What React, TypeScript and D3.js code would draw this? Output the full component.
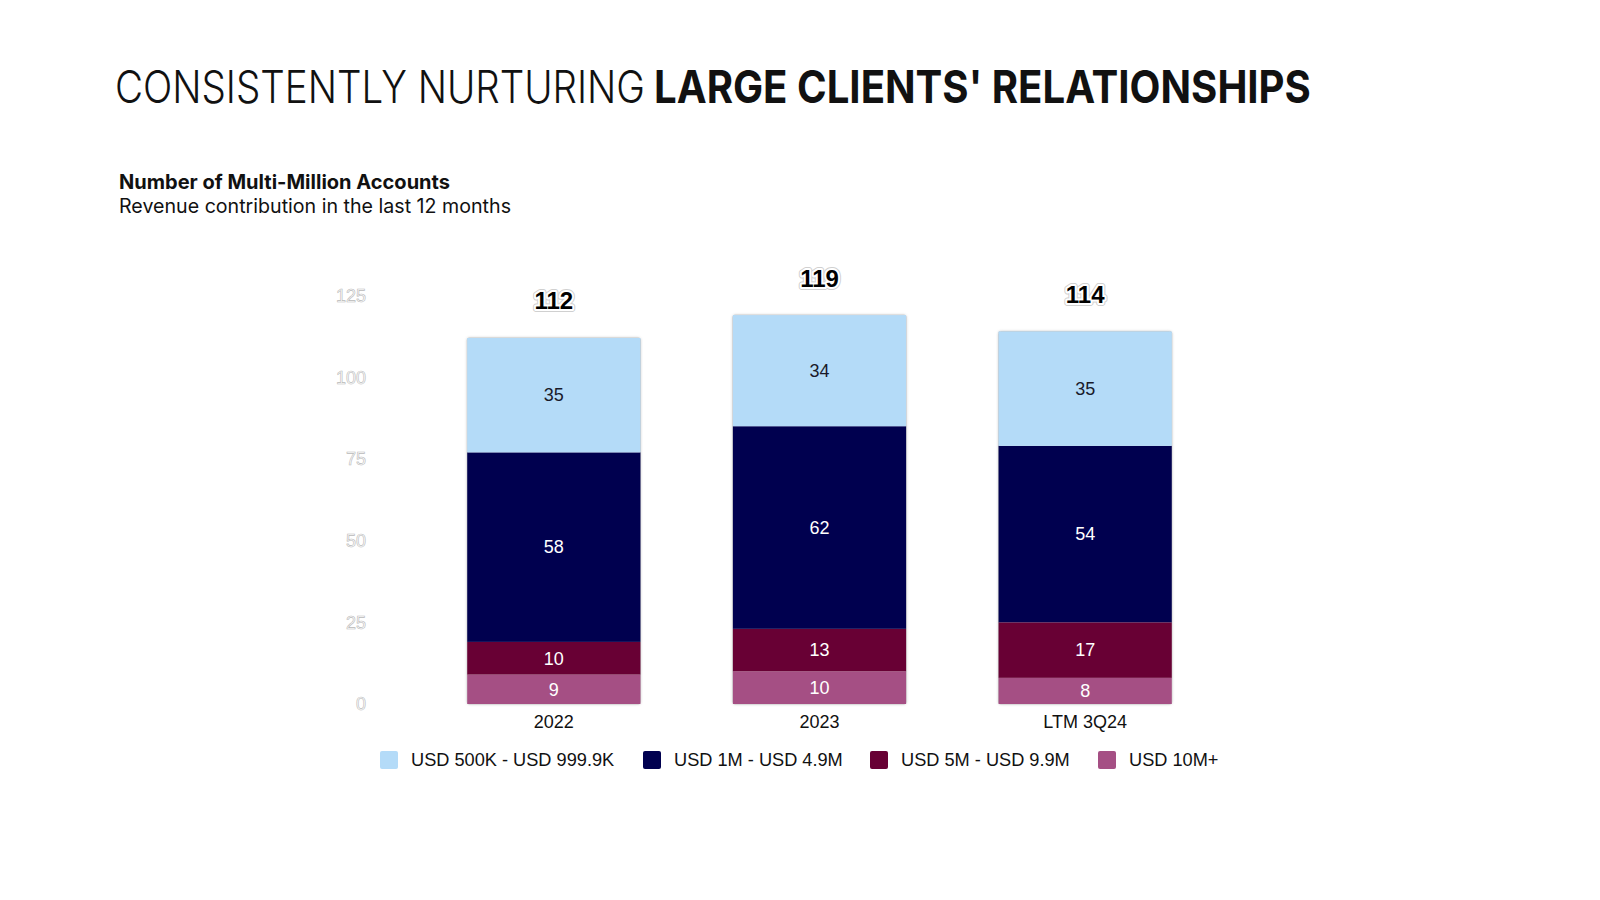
import React from 'react';
import * as d3 from 'd3';

const categories = ['2022', '2023', 'LTM 3Q24'];
const seriesNames = ['USD 10M+', 'USD 5M - USD 9.9M', 'USD 1M - USD 4.9M', 'USD 500K - USD 999.9K'];
const usd10m = [9, 10, 8];
const usd5m = [10, 13, 17];
const usd1m = [58, 62, 54];
const usd500k = [35, 34, 35];
const totals = [112, 119, 114];
const yTicks = [0, 25, 50, 75, 100, 125];
const legendOrder = ['USD 500K - USD 999.9K', 'USD 1M - USD 4.9M', 'USD 5M - USD 9.9M', 'USD 10M+'];

const colors: Record<string, string> = {
  'USD 10M+': '#a54f84',
  'USD 5M - USD 9.9M': '#680034',
  'USD 1M - USD 4.9M': '#00004f',
  'USD 500K - USD 999.9K': '#b4dbf8',
};

export default function App() {
  const width = 1600;
  const height = 900;

  const rows = categories.map((c, i) => ({
    cat: c,
    'USD 10M+': usd10m[i],
    'USD 5M - USD 9.9M': usd5m[i],
    'USD 1M - USD 4.9M': usd1m[i],
    'USD 500K - USD 999.9K': usd500k[i],
  }));
  const stacked = d3.stack<any>().keys(seriesNames)(rows);

  const x = d3.scaleBand()
    .domain(categories)
    .range([421, 1218])
    .paddingInner(0.348)
    .paddingOuter(0.174);

  const y = d3.scaleLinear().domain([0, 125]).range([704, 295.5]);

  const axisFont = 'Liberation Sans, Arial, sans-serif';

  // legend positions (left edge of square)
  const legendX = d3.scaleOrdinal<string, number>().domain(legendOrder).range([380, 643, 870, 1098]);

  return (
    <svg width={width} height={height} style={{ position: 'absolute', left: 0, top: 0, background: '#fff' }}>
      <defs>
        <filter id="soft" x="-20%" y="-20%" width="140%" height="140%">
          <feDropShadow dx="0" dy="0" stdDeviation="1" floodColor="#999" floodOpacity="0.6" />
        </filter>
      </defs>

      {/* title, squeezed horizontally to the narrow face of the original */}
      <g transform="translate(115,103) scale(0.856,1)">
        <text x={0} y={0} fontFamily="Inter, sans-serif" fontSize={45} fontWeight={300} fill="#111">
          CONSISTENTLY NURTURING
        </text>
      </g>
      <g transform="translate(654,103) scale(0.892,1)">
        <text x={0} y={0} fontFamily="Inter, sans-serif" fontSize={45} fontWeight={700} fill="#111">
          LARGE CLIENTS' RELATIONSHIPS
        </text>
      </g>

      <text x={119} y={189} fontFamily="Inter, sans-serif" fontSize={20} fontWeight={700} fill="#111"
        textLength={331} lengthAdjust="spacingAndGlyphs">
        Number of Multi-Million Accounts
      </text>
      <text x={119} y={213} fontFamily="Inter, sans-serif" fontSize={19.5} fontWeight={400} fill="#111"
        textLength={392} lengthAdjust="spacingAndGlyphs">
        Revenue contribution in the last 12 months
      </text>

      {/* y ticks: outlined labels */}
      {yTicks.map(t => (
        <text key={t} x={366} y={y(t)} dy="0.35em" textAnchor="end" fontFamily={axisFont} fontSize={18}
          fill="#fff" stroke="#b8b8b8" strokeWidth={0.6}>
          {t}
        </text>
      ))}

      {/* bars */}
      {categories.map((c, i) => (
        <rect key={'bg' + c} x={x(c)} y={y(totals[i])} width={x.bandwidth()} height={y(0) - y(totals[i])}
          rx={2} fill="none" stroke="#c8c8c8" strokeWidth={1} filter="url(#soft)" />
      ))}
      {stacked.map(s => (
        <g key={s.key}>
          {s.map((d, i) => (
            <rect key={categories[i]} x={x(categories[i])} y={y(d[1])} width={x.bandwidth()}
              height={y(d[0]) - y(d[1])} fill={colors[s.key]} />
          ))}
        </g>
      ))}
      {stacked.map(s => (
        <g key={'lbl' + s.key}>
          {s.map((d, i) => (
            <text key={categories[i]} x={(x(categories[i]) ?? 0) + x.bandwidth() / 2} y={(y(d[0]) + y(d[1])) / 2}
              dy="0.35em" textAnchor="middle" fontFamily={axisFont} fontSize={18}
              fill={s.key === 'USD 500K - USD 999.9K' ? '#1a1a2a' : '#fff'}>
              {d[1] - d[0]}
            </text>
          ))}
        </g>
      ))}

      {/* totals */}
      {categories.map((c, i) => (
        <g key={'tot' + c}>
          <text x={(x(c) ?? 0) + x.bandwidth() / 2} y={y(totals[i]) - 37} dy="0.35em" textAnchor="middle"
            fontFamily={axisFont} fontSize={24} fontWeight={700} fill="#000" stroke="#d0d0d0" strokeWidth={6}
            strokeLinejoin="round" style={{ paintOrder: 'stroke' }}>
            {totals[i]}
          </text>
          <text x={(x(c) ?? 0) + x.bandwidth() / 2} y={y(totals[i]) - 37} dy="0.35em" textAnchor="middle"
            fontFamily={axisFont} fontSize={24} fontWeight={700} fill="#000" stroke="#fff" strokeWidth={4}
            strokeLinejoin="round" style={{ paintOrder: 'stroke' }}>
            {totals[i]}
          </text>
        </g>
      ))}

      {/* x labels */}
      {categories.map(c => (
        <text key={'x' + c} x={(x(c) ?? 0) + x.bandwidth() / 2} y={722} dy="0.35em" textAnchor="middle"
          fontFamily={axisFont} fontSize={18} fill="#111">
          {c}
        </text>
      ))}

      {/* legend */}
      {legendOrder.map(k => (
        <g key={'leg' + k} transform={`translate(${legendX(k)},751)`}>
          <rect width={18} height={18} rx={2} fill={colors[k]} />
          <text x={31} y={9} dy="0.35em" fontFamily={axisFont} fontSize={18.2} fill="#111">{k}</text>
        </g>
      ))}
    </svg>
  );
}
